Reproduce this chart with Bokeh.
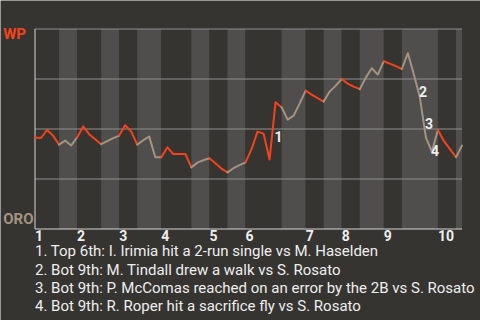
from bokeh.plotting import figure
from bokeh.models import Range1d
from bokeh.embed import file_html
from bokeh.resources import INLINE
from bokeh.core.properties import value

# ---------------- data ----------------
team_top = "WP"
team_bottom = "ORO"
innings = ["1", "2", "3", "4", "5", "6", "7", "8", "9", "10"]
# plate appearances in each half inning (top 1, bot 1, top 2, ...)
half_inning_pas = [4, 3, 4, 3, 3, 4, 5, 3, 3, 3, 6, 4, 3, 3, 3, 4, 3, 6, 3, 1]
# WP win probability after each plate appearance (first value = start of game)
wp = [0.458, 0.455, 0.495, 0.467, 0.422,
      0.442, 0.417, 0.458,
      0.513, 0.474, 0.449, 0.424,
      0.439, 0.454, 0.467,
      0.519, 0.487, 0.422,
      0.444, 0.462, 0.359, 0.359,
      0.408, 0.375, 0.375, 0.375, 0.308,
      0.332, 0.344, 0.354,
      0.329, 0.302, 0.283,
      0.304, 0.319, 0.333,
      0.399, 0.487, 0.477, 0.347, 0.634, 0.609,
      0.547, 0.567, 0.627, 0.692,
      0.672, 0.654, 0.637,
      0.687, 0.717, 0.750,
      0.727, 0.712, 0.699,
      0.757, 0.804, 0.772, 0.839,
      0.827, 0.814, 0.800,
      0.879, 0.772, 0.657, 0.457, 0.387, 0.495,
      0.439, 0.399, 0.359,
      0.417]
grid_levels = [0.25, 0.5, 0.75, 1.0]
event_pa = [40, 64, 65, 66]
event_marks = ["1", "2", "3", "4"]
notes = [
    "1. Top 6th: I. Irimia hit a 2-run single vs M. Haselden",
    "2. Bot 9th: M. Tindall drew a walk vs S. Rosato",
    "3. Bot 9th: P. McComas reached on an error by the 2B vs S. Rosato",
    "4. Bot 9th: R. Roper hit a sacrifice fly vs S. Rosato",
]

# ---------------- style ----------------
BG = "#363430"
BAND_LIGHT = "#4f4e4c"
RED = "#f4431c"
TAN = "#a39383"
GRID = "#8e8e8e"
AXIS = "#d4d4d4"
TEXT = "#eeeeee"
FONT = value("Roboto")

W, H = 480, 320
PLOT_L, PLOT_R, PLOT_T, PLOT_B = 34.5, 461.5, 28.5, 228.5   # pixel box of the chart area

n = len(wp) - 1
idx = list(range(len(wp)))
sx = (PLOT_R - PLOT_L) / n       # px per plate appearance
sy = (PLOT_B - PLOT_T) / 1.0     # px per unit of probability

x_range = Range1d(-PLOT_L / sx, n + (W - PLOT_R) / sx)
y_range = Range1d(-(H - PLOT_B) / sy, 1 + PLOT_T / sy)

p = figure(width=W, height=H, x_range=x_range, y_range=y_range,
           output_backend="svg", toolbar_location=None,
           x_axis_location=None, y_axis_location=None,
           min_border=0, background_fill_color=BG, border_fill_color=BG,
           outline_line_color=None)
p.xgrid.visible = False
p.ygrid.visible = False

def px_to_y(py):
    return (PLOT_B - py) / sy

def px_to_x(px):
    return (px - PLOT_L) / sx

# half-inning bands
cum = []
s = 0
for c in half_inning_pas:
    s += c
    cum.append(s)
lefts = [0] + cum[:-1]
rights = cum
band_colors = [BG if i % 2 == 0 else BAND_LIGHT for i in range(len(half_inning_pas))]
p.quad(left=lefts, right=rights, bottom=0, top=1, fill_color=band_colors, line_color=None)

# grid lines
p.segment(x0=0, x1=n, y0=grid_levels, y1=grid_levels, line_color=GRID, line_width=1)
# axis lines
p.segment(x0=[0, 0], y0=[0, 0], x1=[0, n], y1=[1, 0], line_color=AXIS, line_width=1)

# win probability line, coloured by batting team
xs, ys, lc = [], [], []
for i, (a, b) in enumerate(zip(lefts, rights)):
    xs.append(idx[a:b + 1])
    ys.append(wp[a:b + 1])
    lc.append(RED if i % 2 == 0 else TAN)
p.multi_line(xs=xs, ys=ys, line_color=lc, line_width=2, line_join="round", line_cap="round")

# event markers
mx = [(idx[e - 1] + idx[e]) / 2 for e in event_pa]
my = [(wp[e - 1] + wp[e]) / 2 for e in event_pa]
p.text(x=mx, y=my, text=event_marks, text_font=FONT, text_font_style="bold",
       text_font_size="14px", text_color=TEXT, text_baseline="top", text_align="left",
       x_offset=2)

SHIFT = 6.5  # baseline correction in px

# inning labels
inning_starts = [lefts[2 * k] for k in range(len(innings))]
p.text(x=inning_starts, y=px_to_y(241.7 - SHIFT), text=innings, text_font=FONT,
       text_font_style="bold", text_font_size="14px", text_color=TEXT,
       text_align="left", text_baseline="alphabetic")

# team labels
p.text(x=[px_to_x(2.7)] * 2, y=[px_to_y(40 - SHIFT), px_to_y(225 - SHIFT)],
       text=[team_top, team_bottom],
       text_font=FONT, text_font_style="bold", text_font_size="15px",
       text_color=[RED, TAN], text_align="left", text_baseline="alphabetic")

# notes
p.text(x=[0] * len(notes), y=[px_to_y(257.2 + 18.4 * k - SHIFT) for k in range(len(notes))],
       text=notes, text_font=FONT, text_font_size="15px", text_color=TEXT,
       text_align="left", text_baseline="alphabetic")

open("out.html", "w").write(file_html(p, INLINE))
